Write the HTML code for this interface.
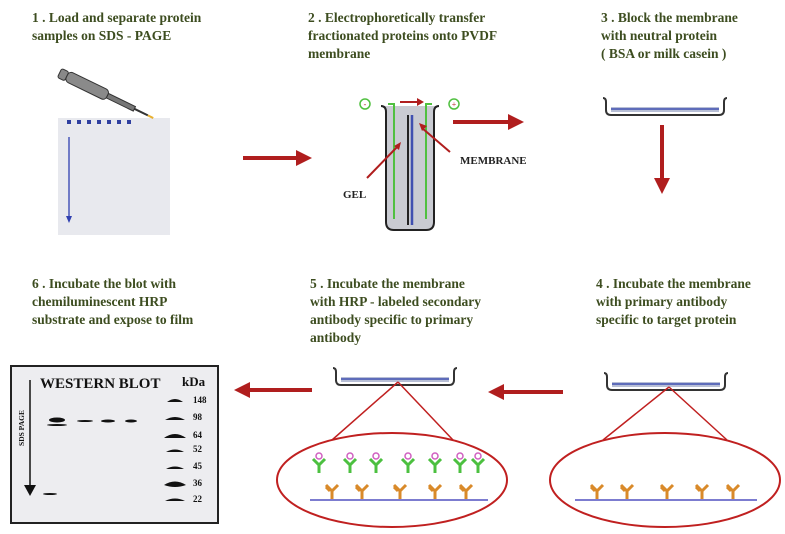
<!DOCTYPE html>
<html><head><style>
body{margin:0;background:#fff;}
svg{display:block}
text{font-family:"Liberation Serif",serif;}
.t{fill:#3d4d20;font-size:13.5px;font-weight:bold}
</style></head><body>
<svg width="785" height="534" viewBox="0 0 785 534">
<defs>
<g id="ab1"><path d="M0,0 V-8 M0,-8 L-6,-14 M0,-8 L6,-14 M-2,-8 L-6,-12" stroke="#d98a2a" stroke-width="3" fill="none"/></g>
<g id="ab2"><path d="M0,0 V-8 M0,-8 L-6,-14 M0,-8 L6,-14" stroke="#4cc040" stroke-width="3" fill="none"/><circle cx="0" cy="-17" r="3" fill="#fff" stroke="#d060c0" stroke-width="1.5"/></g>
<g id="tray"><path d="M0,0 q3,0 3,4 v8 q0,5 5,5 h108 q5,0 5,-5 v-8 q0,-4 3,-4" fill="none" stroke="#333" stroke-width="2"/><rect x="8" y="9" width="108" height="5" fill="#b8bfd6"/><line x1="8" y1="11" x2="116" y2="11" stroke="#4050b0" stroke-width="1.5"/></g>
</defs>
<text class="t" x="32" y="22">1 .  Load and separate protein</text>
<text class="t" x="32" y="40">samples on SDS - PAGE</text>
<text class="t" x="308" y="22">2 . Electrophoretically transfer</text>
<text class="t" x="308" y="40">fractionated proteins onto PVDF</text>
<text class="t" x="308" y="58">membrane</text>
<text class="t" x="601" y="22">3 . Block the membrane</text>
<text class="t" x="601" y="40">with neutral protein</text>
<text class="t" x="601" y="58">( BSA or milk casein )</text>
<text class="t" x="32" y="288">6 . Incubate the blot with</text>
<text class="t" x="32" y="306">chemiluminescent HRP</text>
<text class="t" x="32" y="324">substrate and expose to film</text>
<text class="t" x="310" y="288">5 . Incubate the membrane</text>
<text class="t" x="310" y="306">with HRP - labeled secondary</text>
<text class="t" x="310" y="324"> antibody specific to primary</text>
<text class="t" x="310" y="342">antibody</text>
<text class="t" x="596" y="288">4 . Incubate the membrane</text>
<text class="t" x="596" y="306">with primary antibody</text>
<text class="t" x="596" y="324">specific to target protein</text>
<!-- gel -->
<rect x="58" y="118" width="112" height="117" fill="#e8e9ee"/>
<g fill="#3040a0"><rect x="67" y="120" width="4" height="4"/><rect x="77" y="120" width="4" height="4"/><rect x="87" y="120" width="4" height="4"/><rect x="97" y="120" width="4" height="4"/><rect x="107" y="120" width="4" height="4"/><rect x="117" y="120" width="4" height="4"/><rect x="127" y="120" width="4" height="4"/></g>
<line x1="69" y1="137" x2="69" y2="218" stroke="#3040b0" stroke-width="1.3"/><path d="M66,216 L72,216 L69,223z" fill="#3040b0"/>
<!-- pipette -->
<g transform="translate(60,72) rotate(26)"><rect x="0" y="-4" width="8" height="10" rx="2" fill="#888" stroke="#333"/><rect x="8" y="-5" width="45" height="11" rx="4" fill="#8a8a8a" stroke="#333"/><rect x="53" y="-2" width="30" height="5" fill="#777" stroke="#333"/><line x1="83" y1="0.5" x2="98" y2="0.5" stroke="#333" stroke-width="2"/><line x1="98" y1="0.5" x2="104" y2="0.5" stroke="#e8b030" stroke-width="2"/></g>
<!-- arrows -->
<g stroke="#b01e1e" stroke-width="4" fill="none">
<line x1="243" y1="158" x2="298" y2="158"/>
<line x1="453" y1="122" x2="510" y2="122"/>
<line x1="662" y1="125" x2="662" y2="180"/>
<line x1="563" y1="392" x2="502" y2="392"/>
<line x1="312" y1="390" x2="248" y2="390"/>
</g>
<g fill="#b01e1e">
<path d="M296,150 L312,158 L296,166z"/>
<path d="M508,114 L524,122 L508,130z"/>
<path d="M654,178 L670,178 L662,194z"/>
<path d="M504,384 L488,392 L504,400z"/>
<path d="M250,382 L234,390 L250,398z"/>
</g>
<!-- tank -->
<path d="M381,106 q5,0 5,6 v110 q0,8 8,8 h32 q8,0 8,-8 v-110 q0,-6 5,-6" fill="#c9cbd2" stroke="#222" stroke-width="2"/>
<path d="M388,104 h6 v115" stroke="#50c040" stroke-width="2" fill="none"/>
<path d="M432,104 h-6 v115" stroke="#50c040" stroke-width="2" fill="none"/>
<line x1="408" y1="115" x2="408" y2="225" stroke="#222" stroke-width="2"/>
<line x1="412" y1="115" x2="412" y2="225" stroke="#4050b0" stroke-width="2.5"/>
<circle cx="365" cy="104" r="5" fill="none" stroke="#50c040" stroke-width="1.5"/><text x="365" y="107" font-size="8" fill="#b01e1e" text-anchor="middle">-</text>
<circle cx="454" cy="104" r="5" fill="none" stroke="#50c040" stroke-width="1.5"/><text x="454" y="107" font-size="8" fill="#b01e1e" text-anchor="middle">+</text>
<line x1="400" y1="102" x2="418" y2="102" stroke="#b01e1e" stroke-width="2"/><path d="M417,98 L424,102 L417,106z" fill="#b01e1e"/>
<line x1="367" y1="178" x2="398" y2="146" stroke="#b01e1e" stroke-width="2"/><path d="M394,146 L401,142 L399,150z" fill="#b01e1e"/>
<line x1="450" y1="152" x2="422" y2="128" stroke="#b01e1e" stroke-width="2"/><path d="M419,123 L427,126 L422,131z" fill="#b01e1e"/>
<text x="343" y="198" font-size="11" font-weight="bold" fill="#222">GEL</text>
<text x="460" y="164" font-size="11" font-weight="bold" fill="#222">MEMBRANE</text>
<!-- trays -->
<use href="#tray" x="603" y="98"/>
<use href="#tray" x="604" y="373"/>
<use href="#tray" x="333" y="368"/>
<!-- ellipse 4 -->
<line x1="669" y1="387" x2="603" y2="440" stroke="#c02020" stroke-width="1.5"/>
<line x1="669" y1="387" x2="727" y2="440" stroke="#c02020" stroke-width="1.5"/>
<ellipse cx="665" cy="480" rx="115" ry="47" fill="none" stroke="#c02020" stroke-width="2"/>
<line x1="575" y1="500" x2="757" y2="500" stroke="#5050c0" stroke-width="1.5"/>
<use href="#ab1" x="597" y="499"/><use href="#ab1" x="627" y="499"/><use href="#ab1" x="667" y="499"/><use href="#ab1" x="702" y="499"/><use href="#ab1" x="733" y="499"/>
<!-- ellipse 5 -->
<line x1="398" y1="382" x2="332" y2="440" stroke="#c02020" stroke-width="1.5"/>
<line x1="398" y1="382" x2="453" y2="440" stroke="#c02020" stroke-width="1.5"/>
<ellipse cx="392" cy="480" rx="115" ry="47" fill="none" stroke="#c02020" stroke-width="2"/>
<line x1="310" y1="500" x2="488" y2="500" stroke="#5050c0" stroke-width="1.5"/>
<use href="#ab1" x="332" y="499"/><use href="#ab1" x="362" y="499"/><use href="#ab1" x="400" y="499"/><use href="#ab1" x="435" y="499"/><use href="#ab1" x="466" y="499"/>
<use href="#ab2" x="319" y="473"/><use href="#ab2" x="350" y="473"/><use href="#ab2" x="376" y="473"/><use href="#ab2" x="408" y="473"/><use href="#ab2" x="435" y="473"/><use href="#ab2" x="460" y="473"/><use href="#ab2" x="478" y="473"/>
<!-- western blot -->
<rect x="11" y="366" width="207" height="157" fill="#ededf0" stroke="#222" stroke-width="2"/>
<text x="40" y="388" font-size="15" font-weight="bold" fill="#111">WESTERN BLOT</text>
<text x="182" y="386" font-size="13" font-weight="bold" fill="#111">kDa</text>
<text transform="translate(24,428) rotate(-90)" font-size="7.5" fill="#111" font-weight="bold" text-anchor="middle">SDS PAGE</text>
<line x1="30" y1="380" x2="30" y2="488" stroke="#111" stroke-width="1.5"/><path d="M24,485 L36,485 L30,496z" fill="#111"/>
<g fill="#111">
<ellipse cx="57" cy="420" rx="8" ry="2.5"/><ellipse cx="57" cy="425" rx="10" ry="1"/>
<ellipse cx="85" cy="421" rx="8" ry="1"/><ellipse cx="108" cy="421" rx="7" ry="1.5"/><ellipse cx="131" cy="421" rx="6" ry="1.5"/>
<ellipse cx="50" cy="494" rx="7" ry="1"/>
<path d="M167,402 q8,-6 16,0z"/><path d="M165,420 q10,-6 20,0z"/><path d="M164,438 q11,-8 22,0z"/><path d="M166,452 q9,-5 18,0z"/><path d="M166,469 q9,-5 18,0z"/><path d="M164,485 q11,-7 22,0 q-11,4 -22,0z"/><path d="M165,501 q10,-5 20,0z"/>
</g>
<g font-size="9" font-weight="bold" fill="#111">
<text x="193" y="403">148</text><text x="193" y="420">98</text><text x="193" y="438">64</text><text x="193" y="452">52</text><text x="193" y="469">45</text><text x="193" y="486">36</text><text x="193" y="502">22</text>
</g>
</svg>
</body></html>
